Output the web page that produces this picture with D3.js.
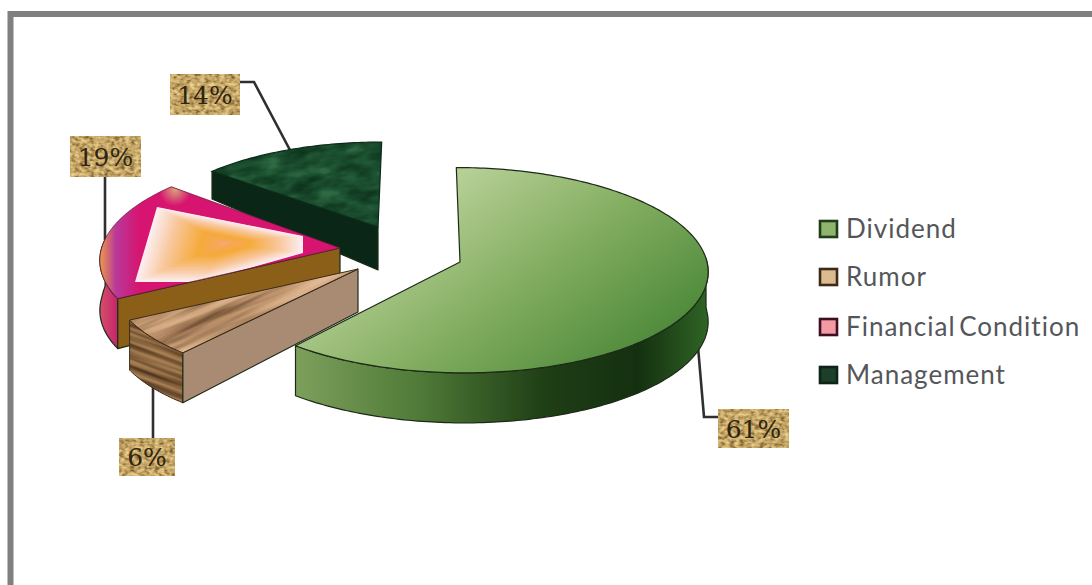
<!DOCTYPE html>
<html>
<head>
<meta charset="utf-8">
<script src="https://cdn.jsdelivr.net/npm/d3@7"></script>
<style>
html,body{margin:0;padding:0;background:#fff;overflow:hidden}
svg{display:block}
</style>
</head>
<body>
<svg id="chart" width="1092" height="585"></svg>
<script>
// Chart data
const categories = ["Dividend", "Rumor", "Financial Condition", "Management"];
const shares = [61, 6, 19, 14];

// Layout of the exploded 3D pie: apex of each wedge, its footprint scale and its lean
const apexes = [[460, 262], [358, 269], [340, 248], [378, 227]];
const wedgeScale = [[1, 1], [0.99, 1], [0.965, 0.99], [0.93, 0.9]];
const wedgeSkew = [4, -11, -10, -4];
const labelBoxes = [[718, 409, 71, 39], [119, 438, 56, 38], [70, 136, 71, 41], [170, 74, 70, 41]];
const leaders = [
  [[697, 335], [704, 417], [718, 417]],
  [[153, 385], [153, 438]],
  [[105, 240], [105, 177]],
  [[291, 152], [254, 82], [240, 82]]
];
const legendRows = [229, 277, 327, 375];
const swatchFill = ["#8fb46c", "#dcbc8e", "#f39aa2", "#1c3f2c"];
const swatchEdge = ["#1f3d1a", "#3d2b1a", "#3c1022", "#0d2416"];

const svg = d3.select("#chart");
const defs = svg.append("defs");

// Ground-plane coordinates (unit circle) onto the page, with mild perspective
const xProject = d3.scaleLinear().domain([-1, 1]).range([-247, 247]);
const yProject = d3.scaleLinear().domain([-1, 1]).range([102, -102]);
const perspective = 0.08;
const project = (deg, r, s) => {
  const a = deg * Math.PI / 180, u = r * Math.sin(a), v = r * Math.cos(a);
  const w = 1 + perspective * v;
  return [
    s.apex[0] + xProject(u / w) * s.scale[0] - s.skew * v / w,
    s.apex[1] + yProject(v / w) * s.scale[1]
  ];
};
// The extruded depth is constant at the front and shrinks towards the back
const depthAt = deg => 50 - 35 * Math.max(0, Math.cos(deg * Math.PI / 180));
const apexDepth = 43;
const drop = (deg, s) => {
  const p = project(deg, 1, s);
  return [p[0], p[1] + depthAt(deg)];
};

const pie = d3.pie().sort(null).value(d => d)
  .startAngle(0).endAngle(2 * Math.PI);
const arcs = pie(shares).map((d, i) => ({
  name: categories[i],
  value: d.value,
  start: d.startAngle * 180 / Math.PI,
  end: d.endAngle * 180 / Math.PI,
  apex: apexes[i],
  scale: wedgeScale[i],
  skew: wedgeSkew[i]
}));
const line = d3.line();
const degrees = (a, b) => d3.range(a, b, 1).concat([b]);

const topPath = s => line([s.apex, ...degrees(s.start, s.end).map(t => project(t, 1, s))]) + "Z";
const arcWall = (s, a, b) => line([
  ...degrees(a, b).map(t => project(t, 1, s)),
  ...degrees(a, b).reverse().map(t => drop(t, s))
]) + "Z";
const radialWall = (s, t) => line([
  s.apex, project(t, 1, s), drop(t, s), [s.apex[0], s.apex[1] + apexDepth]
]) + "Z";

// Gradients
function linear(id, x1, y1, x2, y2, stops) {
  const g = defs.append("linearGradient").attr("id", id)
    .attr("gradientUnits", "userSpaceOnUse")
    .attr("x1", x1).attr("y1", y1).attr("x2", x2).attr("y2", y2);
  stops.forEach(([o, c]) => g.append("stop").attr("offset", o).attr("stop-color", c));
}
linear("dividendTop", 470, 170, 640, 400, [[0, "#b5cf94"], [0.45, "#80ab5e"], [1, "#3f8030"]]);
linear("dividendSide", 296, 0, 708, 0, [[0, "#7d9f5c"], [0.3, "#4f7a37"], [0.6, "#1f3f16"], [0.83, "#143010"], [1, "#2f6424"]]);
linear("financialRim", 100, 0, 140, 0, [[0, "#ec9a48"], [0.4, "#b8389a"], [1, "#d7146f"]]);
linear("financialSide", 100, 0, 125, 0, [[0, "#d5506a"], [0.6, "#c72a6c"], [1, "#a82a50"]]);

const tip = defs.append("radialGradient").attr("id", "financialTip")
  .attr("gradientUnits", "userSpaceOnUse").attr("cx", 175).attr("cy", 190).attr("r", 16);
tip.append("stop").attr("offset", 0).attr("stop-color", "#d9a078");
tip.append("stop").attr("offset", 1).attr("stop-color", "#d9a078").attr("stop-opacity", 0);

// Procedural textures: marble, wood grain and burlap
function noise(id, freq, octaves, seed, r, g, b) {
  const f = defs.append("filter").attr("id", id)
    .attr("x", 0).attr("y", 0).attr("width", 1).attr("height", 1)
    .attr("color-interpolation-filters", "sRGB");
  f.append("feTurbulence").attr("type", "fractalNoise")
    .attr("baseFrequency", freq).attr("numOctaves", octaves).attr("seed", seed);
  f.append("feColorMatrix").attr("type", "matrix")
    .attr("values", "1 0 0 0 0  1 0 0 0 0  1 0 0 0 0  0 0 0 0 1");
  const t = f.append("feComponentTransfer");
  t.append("feFuncR").attr("type", "table").attr("tableValues", r);
  t.append("feFuncG").attr("type", "table").attr("tableValues", g);
  t.append("feFuncB").attr("type", "table").attr("tableValues", b);
}
noise("marble", "0.035 0.09", 3, 4, "0.03 0.05 0.08 0.12 0.19 0.08", "0.15 0.20 0.26 0.33 0.42 0.22", "0.08 0.11 0.15 0.20 0.27 0.13");
noise("woodTop", "0.008 0.11", 3, 7, "0.35 0.50 0.66 0.80 0.88 0.95", "0.24 0.36 0.50 0.64 0.72 0.80", "0.14 0.24 0.36 0.48 0.58 0.66");
noise("woodSide", "0.008 0.2", 2, 11, "0.22 0.32 0.46 0.60 0.70 0.78", "0.14 0.22 0.33 0.45 0.54 0.60", "0.08 0.13 0.20 0.29 0.37 0.43");
noise("burlap", "0.2 0.3", 2, 3, "0.35 0.50 0.70 0.84 0.92 0.96", "0.26 0.38 0.58 0.72 0.82 0.90", "0.12 0.20 0.34 0.46 0.56 0.66");

const clip = (id, d) => defs.append("clipPath").attr("id", id).append("path").attr("d", d);
const textured = (parent, clipId, filter, angle, box) => parent.append("g")
  .attr("clip-path", `url(#${clipId})`)
  .append("rect")
  .attr("x", box[0]).attr("y", box[1]).attr("width", box[2]).attr("height", box[3])
  .attr("transform", `rotate(${angle} ${box[0] + box[2] / 2} ${box[1] + box[3] / 2})`)
  .attr("filter", `url(#${filter})`);

const edge = sel => sel.attr("stroke", "#1d2a18").attr("stroke-width", 1.2).attr("stroke-linejoin", "round");

// Frame around the plot
svg.append("path").attr("d", "M10.5,585V14H1092")
  .attr("fill", "none").attr("stroke", "#808080").attr("stroke-width", 6);

// Leader lines run underneath the wedges
svg.append("g").selectAll("path").data(leaders).join("path")
  .attr("d", d => line(d))
  .attr("fill", "none").attr("stroke", "#2f2f33").attr("stroke-width", 2.6);

const [dividend, rumor, financial, management] = arcs;
const pies = svg.append("g");

// Management wedge
{
  const g = pies.append("g");
  edge(g.append("path").attr("d", radialWall(management, management.start)).attr("fill", "#0a2616"));
  clip("managementClip", topPath(management));
  textured(g, "managementClip", "marble", -8, [180, 110, 240, 130]);
  g.append("path").attr("d", topPath(management)).attr("fill", "none")
    .attr("stroke", "#0c2a18").attr("stroke-width", 1.2);
}

// Financial Condition wedge, with a concentric fill from a pale outline to an orange heart
{
  const s = financial;
  const g = pies.append("g");
  edge(g.append("path").attr("d", arcWall(s, s.start, 275)).attr("fill", "url(#financialSide)"));
  edge(g.append("path").attr("d", radialWall(s, s.start)).attr("fill", "#8c5f18"));
  g.append("path").attr("d", topPath(s)).attr("fill", "url(#financialRim)");
  g.append("path").attr("d", topPath(s)).attr("fill", "url(#financialTip)");
  clip("financialClip", topPath(s));
  const inner = [[-183, -41], [-37, -12], [-37, 5], [-140, 34], [-205, 34]]
    .map(([dx, dy]) => [s.apex[0] + dx, s.apex[1] + dy]);
  const heart = [s.apex[0] - 115, s.apex[1] - 5];
  const tone = d3.scaleLinear()
    .domain([0, 0.06, 0.3, 0.68, 0.93, 1])
    .range(["#fdeef0", "#fbe7e2", "#f8c79c", "#f5aa3a", "#f7a85c", "#f6a6a0"]);
  const rings = d3.range(0, 1, 0.02);
  const fills = g.append("g").attr("clip-path", "url(#financialClip)");
  fills.selectAll("path").data(rings).join("path")
    .attr("d", k => line(inner.map(p => [p[0] + (heart[0] - p[0]) * k, p[1] + (heart[1] - p[1]) * k])) + "Z")
    .attr("fill", k => tone(k));
  g.append("path").attr("d", topPath(s)).attr("fill", "none").attr("stroke", "#6e1a40").attr("stroke-width", 0.8);
}

// Rumor wedge with wood grain
{
  const s = rumor;
  const g = pies.append("g");
  clip("rumorSideClip", arcWall(s, s.start, s.end));
  textured(g, "rumorSideClip", "woodSide", 20, [110, 300, 100, 130]);
  g.append("path").attr("d", arcWall(s, s.start, s.end)).attr("fill", "none").attr("stroke", "#3a2a18").attr("stroke-width", 1);
  edge(g.append("path").attr("d", radialWall(s, s.start)).attr("fill", "#a88b72"));
  clip("rumorClip", topPath(s));
  textured(g, "rumorClip", "woodTop", -24, [90, 240, 310, 130]);
  g.append("path").attr("d", topPath(s)).attr("fill", "none").attr("stroke", "#3a2a18").attr("stroke-width", 1);
}

// Dividend wedge
{
  const s = dividend;
  const g = pies.append("g");
  edge(g.append("path").attr("d", arcWall(s, 88, s.end)).attr("fill", "url(#dividendSide)"));
  edge(g.append("path").attr("d", topPath(s)).attr("fill", "url(#dividendTop)"));
}

// Value labels on burlap tags
const tags = svg.append("g").selectAll("g").data(arcs).join("g");
tags.append("rect")
  .attr("x", (d, i) => labelBoxes[i][0]).attr("y", (d, i) => labelBoxes[i][1])
  .attr("width", (d, i) => labelBoxes[i][2]).attr("height", (d, i) => labelBoxes[i][3])
  .attr("filter", "url(#burlap)");
tags.append("text")
  .attr("x", (d, i) => labelBoxes[i][0] + labelBoxes[i][2] / 2)
  .attr("y", (d, i) => labelBoxes[i][1] + labelBoxes[i][3] / 2 + 9)
  .attr("text-anchor", "middle")
  .attr("font-family", "'DejaVu Serif'").attr("font-size", 25)
  .attr("fill", "#2e2412")
  .text(d => `${d.value}%`);

// Legend
const legend = svg.append("g").selectAll("g").data(categories).join("g")
  .attr("transform", (d, i) => `translate(0,${legendRows[i]})`);
legend.append("rect")
  .attr("x", 820).attr("y", -8).attr("width", 17).attr("height", 16)
  .attr("fill", (d, i) => swatchFill[i]).attr("stroke", (d, i) => swatchEdge[i]).attr("stroke-width", 2.6);
legend.append("text")
  .attr("x", 846).attr("y", 9)
  .attr("font-family", "Lato").attr("font-size", 26)
  .attr("letter-spacing", 1).attr("word-spacing", -4).attr("fill", "#54565a")
  .text(d => d);
</script>
</body>
</html>
